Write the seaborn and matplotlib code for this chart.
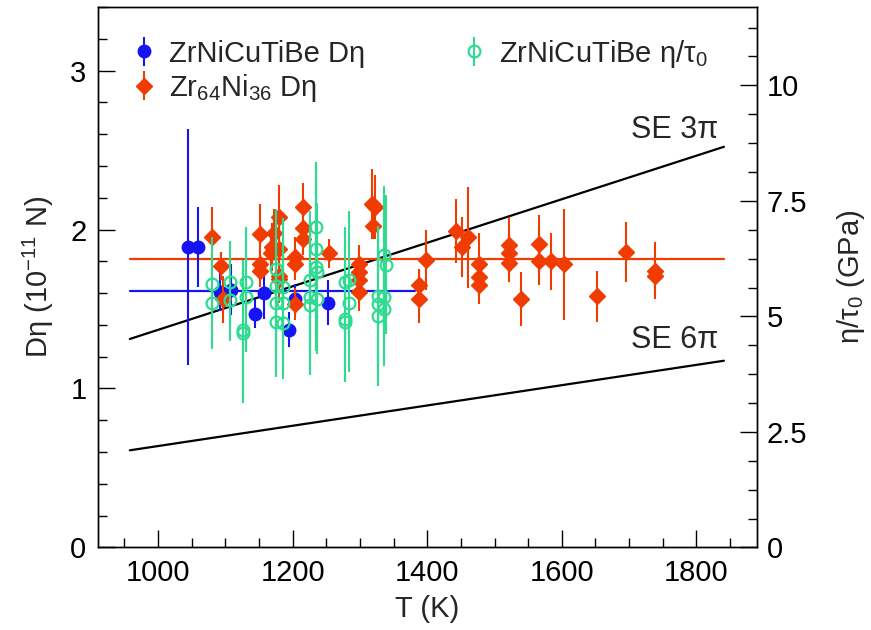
import numpy as np
import pandas as pd
import matplotlib
matplotlib.use("Agg")
import matplotlib.pyplot as plt
from matplotlib.ticker import MultipleLocator
import seaborn as sns

# ---------------- data ----------------
# ZrNiCuTiBe D*eta (10^-11 N)
blue_T = [1044, 1059, 1092, 1109, 1144, 1157, 1194, 1204, 1253]
blue_y = [1.89, 1.89, 1.61, 1.62, 1.47, 1.60, 1.37, 1.56, 1.54]
blue_e = [0.74, 0.25, 0.12, 0.16, 0.09, 0.16, 0.11, 0.10, 0.14]

# Zr64Ni36 D*eta (10^-11 N)
red_T = [1080, 1093, 1097, 1152, 1152, 1152, 1170, 1173, 1168, 1180, 1180, 1180,
         1180, 1203, 1204, 1204, 1215, 1215, 1215, 1254, 1299, 1299, 1299, 1299,
         1318, 1322, 1320, 1388, 1388, 1398, 1443, 1452, 1461, 1477, 1477, 1477,
         1521, 1521, 1521, 1539, 1566, 1566, 1584, 1603, 1653, 1696, 1738, 1738]
red_y = [1.95, 1.77, 1.56, 1.97, 1.78, 1.74, 1.89, 1.98, 1.85, 2.08, 1.88, 1.71,
         1.69, 1.83, 1.78, 1.53, 2.14, 2.01, 1.94, 1.85, 1.78, 1.73, 1.68, 1.61,
         2.16, 2.14, 2.02, 1.65, 1.56, 1.81, 1.99, 1.89, 1.95, 1.78, 1.70, 1.65,
         1.90, 1.85, 1.79, 1.56, 1.91, 1.80, 1.80, 1.78, 1.58, 1.86, 1.74, 1.71]
red_e = [0.19, 0.09, 0.15, 0.19, 0.10, 0.10, 0.15, 0.15, 0.12, 0.20, 0.15, 0.12,
         0.15, 0.12, 0.10, 0.10, 0.15, 0.12, 0.10, 0.09, 0.12, 0.12, 0.15, 0.12,
         0.22, 0.20, 0.08, 0.10, 0.15, 0.19, 0.20, 0.19, 0.32, 0.20, 0.12, 0.12,
         0.18, 0.12, 0.12, 0.17, 0.18, 0.15, 0.18, 0.35, 0.16, 0.19, 0.18, 0.12]

# ZrNiCuTiBe eta/tau0 (GPa)
green_T = [1080, 1080, 1107, 1107, 1126, 1126, 1130, 1130, 1175, 1175, 1175, 1175,
           1185, 1185, 1185, 1226, 1226, 1226, 1234, 1234, 1234, 1236, 1236,
           1278, 1278, 1278, 1284, 1284, 1327, 1327, 1327, 1336, 1336, 1336, 1338]
green_y = [5.71, 5.29, 5.74, 5.36, 4.71, 4.63, 5.74, 5.42, 6.02, 5.65, 5.29, 4.88,
           5.63, 5.29, 4.85, 5.78, 5.42, 5.24, 6.94, 6.46, 6.06, 5.96, 5.38,
           5.74, 4.95, 4.88, 5.78, 5.29, 5.45, 5.27, 5.00, 6.32, 5.42, 5.17, 6.12]
green_e = [1.0, 1.0, 0.9, 0.9, 1.5, 1.5, 1.2, 1.2, 1.3, 1.4, 1.5, 1.2,
           1.5, 1.5, 1.2, 1.5, 1.5, 1.5, 1.4, 1.5, 1.8, 1.5, 1.2,
           1.2, 1.3, 1.3, 1.5, 1.5, 1.5, 1.5, 1.5, 1.5, 1.5, 1.2, 1.5]

# reference lines
mean_red = 1.815
mean_blue = 1.616
line_T = [958, 1841]
blue_line_T = [958, 1382]
se3_slope = 1.369e-3   # D*eta per K for SE 3pi
se6_slope = 0.638e-3   # D*eta per K for SE 6pi

# ---------------- style ----------------
sns.set_theme(style="ticks")
plt.rcParams['font.family'] = ['Liberation Sans', 'DejaVu Sans']
plt.rcParams['mathtext.fontset'] = 'custom'
plt.rcParams['mathtext.rm'] = 'Liberation Sans'
plt.rcParams['mathtext.it'] = 'Liberation Sans:italic'
plt.rcParams['mathtext.default'] = 'regular'

BLUE = '#1414f5'
RED = '#f03c00'
GREEN = '#2edb91'
FS = 21

fig = plt.figure(figsize=(8.71, 6.30), dpi=100)
ax = fig.add_axes([0.112, 0.131, 0.757, 0.858])
ax2 = ax.twinx()

# lines
df_lines = pd.DataFrame({
    'T': line_T + line_T + line_T + blue_line_T,
    'y': [se3_slope * t for t in line_T] + [se6_slope * t for t in line_T]
         + [mean_red, mean_red] + [mean_blue, mean_blue],
    'kind': ['se3'] * 2 + ['se6'] * 2 + ['red'] * 2 + ['blue'] * 2,
})
sns.lineplot(data=df_lines, x='T', y='y', hue='kind',
             palette={'se3': 'black', 'se6': 'black', 'red': RED, 'blue': BLUE},
             lw=1.6, legend=False, ax=ax, estimator=None, sort=False)

# data
hb = ax.errorbar(blue_T, blue_y, yerr=blue_e, fmt='o', color=BLUE, ms=9,
                 elinewidth=1.5, capsize=0, zorder=3)
hr = ax.errorbar(red_T, red_y, yerr=red_e, fmt='D', color=RED, ms=8.5,
                 elinewidth=1.5, capsize=0, zorder=4)
hg = ax2.errorbar(green_T, green_y, yerr=green_e, fmt='o', color=GREEN, ms=8.5,
                  mfc='none', mew=1.6, elinewidth=1.5, capsize=0, zorder=3)

ax.set_xlim(910, 1890)
ax.set_ylim(0, 3.4)
ax2.set_ylim(0, 3.4 * 3.44)

ax.xaxis.set_major_locator(MultipleLocator(200))
ax.xaxis.set_minor_locator(MultipleLocator(50))
ax.yaxis.set_major_locator(MultipleLocator(1))
ax.yaxis.set_minor_locator(MultipleLocator(0.2))
ax2.yaxis.set_major_locator(MultipleLocator(2.5))
ax2.yaxis.set_minor_locator(MultipleLocator(0.625))
ax2.set_yticks([0, 2.5, 5, 7.5, 10])
ax2.set_yticklabels(['0', '2.5', '5', '7.5', '10'])

for a in (ax, ax2):
    a.tick_params(which='major', direction='in', length=12, width=1.0,
                  labelsize=FS, color='black', labelcolor='black')
    a.tick_params(which='minor', direction='in', length=6.5, width=1.0,
                  color='black')
    for s in a.spines.values():
        s.set_color('black')
        s.set_linewidth(1.0)
ax.tick_params(which='both', top=False, right=False)
ax2.tick_params(which='both', left=False, right=True, top=False)
ax2.tick_params(axis='y', pad=7)
ax.tick_params(axis='x', pad=8)
ax.tick_params(axis='y', pad=8)

ax.set_xlabel('T (K)', fontsize=FS, labelpad=6)
ax.set_ylabel('Dη (10$^{-11}$ N)', fontsize=FS, labelpad=10)
ax2.set_ylabel('η/τ$_0$ (GPa)', fontsize=FS, labelpad=20)

ax.text(1833, 2.53, 'SE 3π', fontsize=FS + 1, ha='right', va='bottom')
ax.text(1833, 1.21, 'SE 6π', fontsize=FS + 1, ha='right', va='bottom')

leg = ax2.legend([hb, hr, hg],
                 ['ZrNiCuTiBe Dη', 'Zr$_{64}$Ni$_{36}$ Dη', 'ZrNiCuTiBe η/τ$_0$'],
                 loc='upper left', bbox_to_anchor=(0.015, 0.992), ncol=2,
                 frameon=False, fontsize=FS, handlelength=0.7,
                 handletextpad=0.5, columnspacing=3.4, labelspacing=0.15)

fig.savefig('out.png', dpi=100)
